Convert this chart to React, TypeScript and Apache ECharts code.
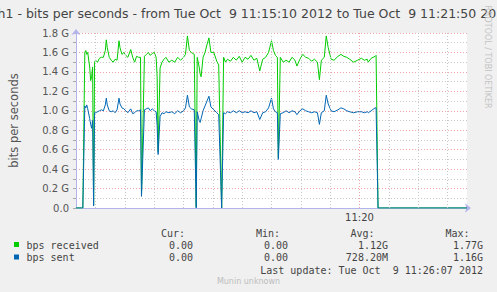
import React, { useEffect, useRef } from 'react';
import * as echarts from 'echarts';

// seconds after 11:15:10
const times = [
  0, 7, 9, 10, 11, 12, 14, 15, 16, 17, 18, 19, 20, 22, 24, 26, 28, 30, 31, 32, 34, 36, 38, 40, 42, 44, 45, 47, 49, 51,
  53, 56, 58, 60, 62, 64, 66, 67, 70, 72, 74, 76, 78, 80, 82, 83, 84, 86, 88, 90, 92, 95, 98, 101, 104, 107, 110, 112,
  114, 116, 118, 121, 123, 124, 126, 127, 128, 130, 132, 134, 136, 138, 141, 144, 146, 149, 151, 153, 155, 158, 161,
  164, 167, 170, 173, 176, 179, 182, 185, 188, 191, 194, 197, 200, 202, 204, 206, 207, 209, 212, 215, 218, 221, 224,
  226, 229, 232, 235, 238, 241, 244, 247, 249, 251, 254, 256, 258, 261, 264, 268, 271, 274, 277, 280, 284, 288, 292,
  295, 298, 299, 302, 306, 307, 309, 400,
];
// Gbit/s
const received = [
  0, 0, 1.6, 1.62, 1.58, 1.6, 1.45, 1.31, 1.35, 1.45, 0.03, 1.5, 1.52, 1.5, 1.54, 1.55, 1.55, 1.62, 1.73, 1.65, 1.55,
  1.52, 1.5, 1.53, 1.52, 1.72, 1.65, 1.58, 1.6, 1.57, 1.55, 1.63, 1.55, 1.5, 1.56, 1.55, 1.55, 0.13, 1.56, 1.58, 1.6,
  1.57, 1.59, 1.6, 1.55, 1.35, 0.58, 1.44, 1.5, 1.53, 1.55, 1.5, 1.52, 1.5, 1.55, 1.52, 1.55, 1.58, 1.77, 1.62, 1.6,
  1.58, 0.01, 1.55, 1.45, 1.38, 1.35, 1.55, 1.6, 1.68, 1.75, 1.6, 1.6, 1.51, 1.47, 0, 1.55, 1.5, 1.53, 1.51, 1.55,
  1.52, 1.56, 1.5, 1.55, 1.53, 1.57, 1.52, 1.54, 1.41, 1.53, 1.55, 1.6, 1.72, 1.62, 1.57, 1.55, 0.52, 1.55, 1.5, 1.52,
  1.5, 1.55, 1.52, 1.46, 1.53, 1.58, 1.55, 1.54, 1.51, 1.53, 1.5, 1.32, 1.52, 1.55, 1.77, 1.65, 1.53, 1.52, 1.56,
  1.58, 1.56, 1.55, 1.53, 1.5, 1.52, 1.54, 1.52, 1.53, 1.5, 1.54, 1.56, 1.57, 0, 0,
];
const sent = [
  0, 0, 1.05, 1.03, 1.06, 1.02, 0.92, 0.86, 0.82, 0.9, 0.02, 0.98, 0.98, 0.99, 1.0, 1.01, 1.0, 1.06, 1.13, 1.06, 1.0,
  0.99, 1.0, 0.98, 1.01, 1.13, 1.07, 1.03, 1.02, 1.0, 0.98, 1.02, 0.97, 0.98, 1.0, 1.0, 1.01, 0.12, 1.01, 1.02, 1.03,
  1.0, 1.02, 1.0, 0.99, 0.85, 0.55, 0.94, 0.98, 0.97, 0.99, 0.98, 0.99, 0.97, 1.0, 0.98, 1.0, 1.03, 1.16, 1.04, 1.02,
  1.01, 0, 0.99, 0.9, 0.88, 0.92, 1.0, 1.05, 1.1, 1.15, 1.04, 1.01, 0.98, 0.96, 0, 0.98, 0.97, 0.99, 0.98, 1.0, 0.98,
  1.0, 0.98, 0.99, 0.98, 1.0, 0.98, 0.99, 0.91, 0.98, 0.99, 1.03, 1.13, 1.02, 0.99, 0.98, 0.5, 0.97, 0.98, 1.0, 0.98,
  1.0, 0.99, 0.96, 1.0, 1.02, 1.0, 0.99, 0.98, 0.99, 0.98, 0.86, 0.98, 1.0, 1.16, 1.07, 1.0, 0.99, 1.01, 1.03, 1.02,
  1.0, 0.99, 0.98, 0.99, 0.99, 0.98, 0.99, 0.98, 1.0, 1.03, 1.03, 0, 0,
];

const minorGridSeconds = [20, 50, 80, 110, 140, 170, 200, 230, 260, 320, 350, 380];
const majorGridSeconds = [290];
const xLabelSeconds = [290];
const xLabelText = ['11:20'];

const titleText = 'eth1 - bits per seconds - from Tue Oct  9 11:15:10 2012 to Tue Oct  9 11:21:50 2012';
const yAxisName = 'bits per seconds';
const watermark = 'RRDTOOL / TOBI OETIKER';
const footer = 'Munin unknown';

const legendNames = ['bps received', 'bps sent'];
const legendColors = ['#00cc00', '#0066b3'];
const statHeaders = ['Cur:', 'Min:', 'Avg:', 'Max:'];
const curValues = ['0.00', '0.00'];
const minValues = ['0.00', '0.00'];
const avgValues = ['1.12G', '728.20M'];
const maxValues = ['1.77G', '1.16G'];
const lastUpdate = 'Last update: Tue Oct  9 11:26:07 2012';

export default function App() {
  const ref = useRef<HTMLDivElement>(null);
  useEffect(() => {
    if (!ref.current) return;
    const chart = echarts.init(ref.current, null, { renderer: 'svg' });
    const mono = 'DejaVu Sans Mono';
    const sans = 'DejaVu Sans';
    const txtColor = '#444';
    const headerRight = [185, 280, 374.5, 469.5];
    const valueRight = [193, 288, 388, 483];
    const rowY = [245, 257.5];
    const graphics: any[] = [];
    graphics.push({
      type: 'text', x: 248.5, y: 13,
      style: { text: titleText, align: 'center', verticalAlign: 'middle', fontSize: 12.5, fontFamily: sans, fill: '#444' },
    });
    graphics.push({
      type: 'text', x: 487.5, y: 57, rotation: -Math.PI / 2,
      style: { text: watermark, align: 'center', verticalAlign: 'middle', fontSize: 8, fontFamily: sans, fill: '#c4c4c4' },
    });
    statHeaders.forEach((h, i) => {
      graphics.push({
        type: 'text', x: headerRight[i], y: 233.5,
        style: { text: h, align: 'right', verticalAlign: 'middle', fontSize: 10, fontFamily: mono, fill: txtColor },
      });
    });
    legendNames.forEach((n, r) => {
      graphics.push({
        type: 'rect', shape: { x: 14, y: rowY[r] - 3, width: 5, height: 5 },
        style: { fill: legendColors[r] },
      });
      graphics.push({
        type: 'text', x: 26.5, y: rowY[r],
        style: { text: n, align: 'left', verticalAlign: 'middle', fontSize: 10, fontFamily: mono, fill: txtColor },
      });
      [curValues, minValues, avgValues, maxValues].forEach((col, c) => {
        graphics.push({
          type: 'text', x: valueRight[c], y: rowY[r],
          style: { text: col[r], align: 'right', verticalAlign: 'middle', fontSize: 10, fontFamily: mono, fill: txtColor },
        });
      });
    });
    graphics.push({
      type: 'text', x: 483, y: 270,
      style: { text: lastUpdate, align: 'right', verticalAlign: 'middle', fontSize: 10, fontFamily: mono, fill: txtColor },
    });
    graphics.push({
      type: 'text', x: 248.5, y: 281,
      style: { text: footer, align: 'center', verticalAlign: 'middle', fontSize: 8, fontFamily: sans, fill: '#bdbdbd' },
    });

    const axisColor = '#b4b4ec';
    chart.setOption({
      animation: false,
      backgroundColor: '#f0f0f0',
      textStyle: { fontFamily: sans },
      grid: { left: 67, right: 30, top: 33, bottom: 84, show: true, backgroundColor: '#ffffff', borderWidth: 0 },
      xAxis: {
        type: 'value', min: 0, max: 400,
        axisLine: { show: true, lineStyle: { color: axisColor }, symbol: ['none', 'arrow'], symbolSize: [7, 6], symbolOffset: [0, 4] },
        axisTick: { show: false },
        splitLine: { show: false },
        axisLabel: {
          customValues: xLabelSeconds,
          formatter: (v: number) => xLabelText[xLabelSeconds.indexOf(v)] ?? '',
          fontSize: 10, color: '#444', margin: 4, fontFamily: sans,
        },
      },
      yAxis: {
        type: 'value', min: 0, max: 1.8, interval: 0.2,
        name: yAxisName, nameLocation: 'middle', nameGap: 56, nameRotate: 90,
        nameTextStyle: { fontSize: 11.5, color: '#555', fontFamily: sans },
        axisLine: { show: true, lineStyle: { color: axisColor }, symbol: ['none', 'arrow'], symbolSize: [7, 6], symbolOffset: [0, 4] },
        axisTick: { show: true, length: 3, lineStyle: { color: '#aaaaaa' } },
        minorTick: { show: true, splitNumber: 2, length: 3, lineStyle: { color: '#aaaaaa' } },
        splitLine: { show: true, lineStyle: { color: 'rgba(230,90,90,0.55)', type: [1, 2] } },
        minorSplitLine: { show: true, lineStyle: { color: '#c8c8c8', type: [1, 2] } },
        axisLabel: {
          formatter: (v: number) => (v === 0 ? '0.0' : v.toFixed(1) + ' G'),
          fontSize: 10, color: '#555', margin: 7, fontFamily: sans,
        },
      },
      graphic: graphics,
      series: [
        {
          type: 'line', data: [], z: 1, silent: true,
          markLine: {
            silent: true, symbol: 'none', label: { show: false }, animation: false,
            data: [
              ...minorGridSeconds.map((s) => ({ xAxis: s, lineStyle: { color: '#c8c8c8', type: [1, 2], width: 1 } })),
              ...majorGridSeconds.map((s) => ({ xAxis: s, lineStyle: { color: 'rgba(230,90,90,0.55)', type: [1, 2], width: 1 } })),
            ],
          },
        },
        {
          name: legendNames[0], type: 'line', z: 3, showSymbol: false,
          data: times.map((t, i) => [t, received[i]]),
          lineStyle: { color: legendColors[0], width: 1 },
          itemStyle: { color: legendColors[0] },
        },
        {
          name: legendNames[1], type: 'line', z: 4, showSymbol: false,
          data: times.map((t, i) => [t, sent[i]]),
          lineStyle: { color: legendColors[1], width: 1 },
          itemStyle: { color: legendColors[1] },
        },
      ],
    });
    return () => chart.dispose();
  }, []);
  return <div ref={ref} style={{ position: 'fixed', left: 0, top: 0, width: 497, height: 292 }} />;
}
